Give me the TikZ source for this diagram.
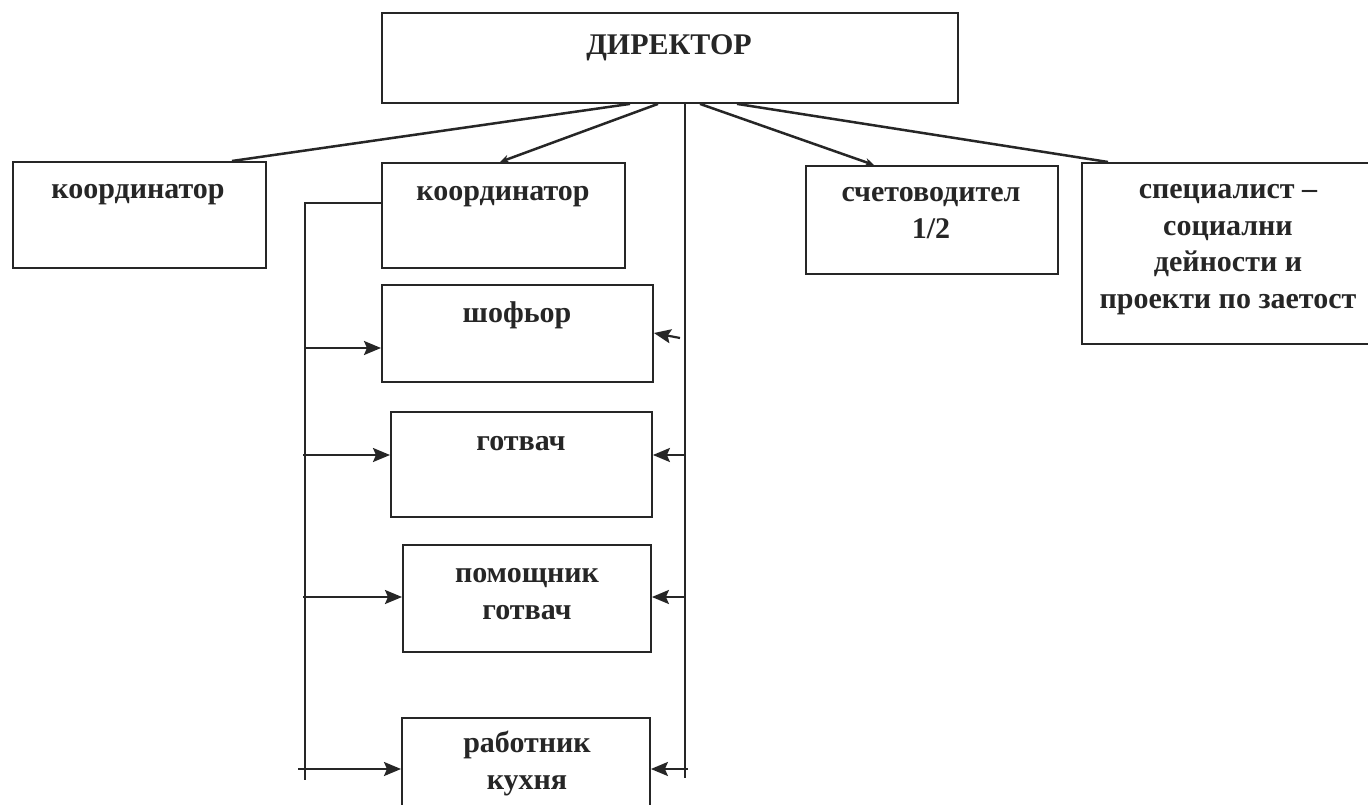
\documentclass[tikz,border=0pt]{standalone}
\usepackage{fontspec}
\setmainfont{Liberation Serif}
\usetikzlibrary{arrows.meta,calc}
\begin{document}
\begin{tikzpicture}[x=1pt,y=-1pt,
  box/.style={draw=black!85, line width=1.9pt, inner sep=0pt, anchor=north west},
  lbl/.style={font=\fontsize{30}{36.5}\selectfont\bfseries, align=center, anchor=base, inner sep=0pt, text=black!85},
  conn/.style={line width=2.5pt, draw=black!85},
  bus/.style={line width=1.7pt, draw=black!85},
  arr/.style={line width=2.2pt, draw=black!85, -{Stealth[length=17pt,width=14pt,inset=3pt]}},
  smallarr/.style={-{Stealth[length=9pt,width=8pt]}}
]
\useasboundingbox (0,0) rectangle (1368,805);
\fill[white] (0,0) rectangle (1368,805);

% boxes
\node[box, minimum width=576pt, minimum height=90pt]  (dir) at (381,12) {};
\node[box, minimum width=253pt, minimum height=106pt] (c1)  at (12,161) {};
\node[box, minimum width=243pt, minimum height=105pt] (c2)  at (381,162) {};
\node[box, minimum width=271pt, minimum height=97pt]  (sh)  at (381,284) {};
\node[box, minimum width=261pt, minimum height=105pt] (gt)  at (390,411) {};
\node[box, minimum width=248pt, minimum height=107pt] (pg)  at (402,544) {};
\node[box, minimum width=248pt, minimum height=113pt] (rk)  at (401,717) {};
\node[box, minimum width=252pt, minimum height=108pt] (sc)  at (805,165) {};
\node[box, minimum width=319pt, minimum height=181pt] (sp)  at (1081,162) {};

% labels (anchor=base is the baseline of the last line)
\node[lbl] (tdir) at (669,55) {ДИРЕКТОР};
\node[lbl] (tc1) at (138,199) {координатор};
\node[lbl] (tc2) at (503,201) {координатор};
\node[lbl] (tsh) at (517,322) {шофьор};
\node[lbl] (tgt) at (521,450) {готвач};
\node[lbl] (tpg) at (527,619) {помощник\\готвач};
\node[lbl] (trk) at (527,789) {работник\\кухня};
\node[lbl] (tsc) at (931,238) {счетоводител\\1/2};
\node[lbl] (tsp) at (1228,308) {специалист –\\социални\\дейности и\\проекти по заетост};

% director connectors
\draw[conn] ($(dir.south west)+(249,0)$) -- ($(c1.north west)+(220,0)$);
\draw[conn, smallarr] ($(dir.south west)+(277,0)$) -- ($(c2.north west)+(119,0)$);
\draw[conn, smallarr] ($(dir.south west)+(319,0)$) -- ($(sc.north west)+(69,0)$);
\draw[conn] ($(dir.south west)+(356,0)$) -- ($(sp.north west)+(27,0)$);

% right bus
\coordinate (rb) at ($(dir.south west)+(304,0)$);
\coordinate (rbend) at (685,778);
\draw[bus] (rb) -- (rbend);

% left bus
\coordinate (c2L) at ($(c2.north west)+(0,41)$);
\coordinate (lb) at (305,203);
\coordinate (lbend) at (305,780);
\draw[bus] (c2L) -- (lb) -- (lbend);

% left arrows
\coordinate (shL) at ($(sh.north west)+(0,64)$);
\coordinate (gtL) at ($(gt.north west)+(0,44)$);
\coordinate (pgL) at ($(pg.north west)+(0,53)$);
\coordinate (rkL) at ($(rk.north west)+(0,52)$);
\draw[arr] (lb |- shL) -- (shL);
\draw[arr] ([xshift=-2pt]lb |- gtL) -- (gtL);
\draw[arr] ([xshift=-2pt]lb |- pgL) -- (pgL);
\draw[arr] ([xshift=-7pt]lb |- rkL) -- (rkL);

% right arrows
\coordinate (shR) at ($(sh.north east)+(0,49)$);
\coordinate (shT) at (680,338);
\coordinate (gtR) at ($(gt.north east)+(0,44)$);
\coordinate (pgR) at ($(pg.north east)+(0,53)$);
\coordinate (rkR) at ($(rk.north east)+(0,52)$);
\draw[arr] (shT) -- (shR);
\draw[arr] (rb |- gtR) -- (gtR);
\draw[arr] (rb |- pgR) -- (pgR);
\draw[arr] ([xshift=3pt]rb |- rkR) -- (rkR);
\end{tikzpicture}
\end{document}
